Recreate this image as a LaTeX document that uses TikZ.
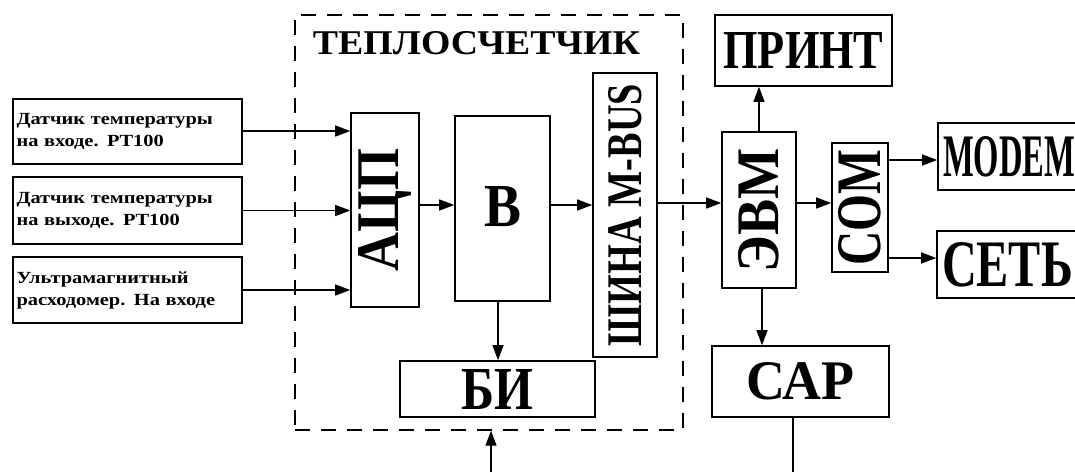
\documentclass[tikz,border=0pt]{standalone}
\usepackage{fontspec}
\usepackage{graphicx}
\setmainfont{Liberation Serif}
\newfontfamily\smallbold[FakeStretch=1.2]{Liberation Serif}
\usetikzlibrary{arrows.meta}
\newcommand\fitlab[3]{\resizebox{#1}{#2}{\bfseries #3}}
\newcommand\uplab[3]{\rotatebox{90}{\resizebox{#1}{#2}{\bfseries #3}}}
\tikzset{
  blk/.style={draw, line width=1.6pt, inner sep=0pt, rectangle},
  sensor/.style={blk, minimum width=229pt, text width=222pt, align=left,
    font=\smallbold\bfseries\fontsize{17pt}{22pt}\selectfont},
  conn/.style={line width=1.4pt, -{Triangle[length=15pt,width=11pt]}},
  plain/.style={line width=1.4pt},
  frame/.style={draw, line width=1.4pt, dash pattern=on 15pt off 11pt, inner sep=0pt}
}
\begin{document}
\begin{tikzpicture}[x=1pt,y=-1pt]
\path[use as bounding box, clip] (0,0) rectangle (1075,472);
\fill[white] (0,0) rectangle (1075,472);

% meter frame
\node[frame, minimum width=388pt, minimum height=415pt] (meter) at (489,222.5) {};
\node[inner sep=0pt] (title) at (476.5,43.5) {\fitlab{327pt}{23pt}{ТЕПЛОСЧЕТЧИК}};

% sensors
\node[sensor, minimum height=65pt] (s1) at (127.5,131.5) {Датчик температуры\\на входе. PT100};
\node[sensor, minimum height=67pt] (s2) at (127.5,210.5) {Датчик температуры\\на выходе. PT100};
\node[sensor, minimum height=66pt] (s3) at (127.5,290) {Ультрамагнитный\\расходомер. На входе};

% inside meter
\node[blk, minimum width=68pt, minimum height=194pt] (adc) at (385,210) {\uplab{123pt}{40pt}{АЦП}};
\node[blk, minimum width=95pt, minimum height=185pt] (b) at (502.5,208.5) {\raisebox{5pt}{\fitlab{37pt}{40pt}{В}}};
\node[blk, minimum width=64pt, minimum height=284pt] (bus) at (625,215) {\uplab{262pt}{33pt}{ШИНА M-BUS}};
\node[blk, minimum width=195pt, minimum height=56pt] (bi) at (497.5,389) {\fitlab{72pt}{40pt}{БИ}};

% right part
\node[blk, minimum width=74pt, minimum height=156pt] (evm) at (759,210) {\uplab{124pt}{40pt}{ЭВМ}};
\node[blk, minimum width=177pt, minimum height=71pt] (print) at (803.5,50.5) {\fitlab{160pt}{36pt}{ПРИНТ}};
\node[blk, minimum width=56pt, minimum height=129pt] (com) at (860,207.5) {\uplab{116pt}{42pt}{COM}};
\node[blk, minimum width=147pt, minimum height=67pt] (modem) at (1011.5,156.5) {\hspace*{-5pt}\fitlab{132pt}{40pt}{MODEM}};
\node[blk, minimum width=147pt, minimum height=67pt] (net) at (1010.5,264.5) {\hspace*{-6pt}\fitlab{131pt}{44pt}{СЕТЬ}};
\node[blk, minimum width=177pt, minimum height=71pt] (sar) at (800.5,381.5) {\fitlab{108pt}{37pt}{САР}};

\coordinate (in1) at (491,472);
\coordinate (out1) at (793,472);

% connectors
\draw[conn] ([yshift=0.5pt]s1.east) -- ([yshift=0.5pt]s1.east -| adc.west);
\draw[conn] (s2.east) -- (s2.east -| adc.west);
\draw[conn] (s3.east) -- (s3.east -| adc.west);
\draw[conn] ([yshift=5pt]adc.east) -- ([yshift=5pt]adc.east -| b.west);
\draw[conn] ([yshift=3.5pt]b.east) -- ([yshift=3.5pt]b.east -| bus.west);
\draw[conn] ([xshift=-4.5pt]b.south) -- ([xshift=-4.5pt]b.south |- bi.north);
\draw[conn] ([yshift=12pt]bus.east) -- ([yshift=12pt]bus.east -| evm.west);
\draw[conn] ([yshift=7pt]evm.east) -- ([yshift=7pt]evm.east -| com.west);
\draw[conn] (evm.north) -- (evm.north |- print.south);
\draw[conn] ([xshift=3pt]evm.south) -- ([xshift=3pt]evm.south |- sar.north);
\draw[conn] ([yshift=-3.5pt]modem.west -| com.east) -- ([yshift=-3.5pt]modem.west);
\draw[conn] ([yshift=6.5pt]net.west -| com.east) -- ([yshift=6.5pt]net.west);
\draw[conn] (in1) -- (in1 |- meter.south);
\draw[plain] (sar.south -| out1) -- (out1);
\end{tikzpicture}
\end{document}
